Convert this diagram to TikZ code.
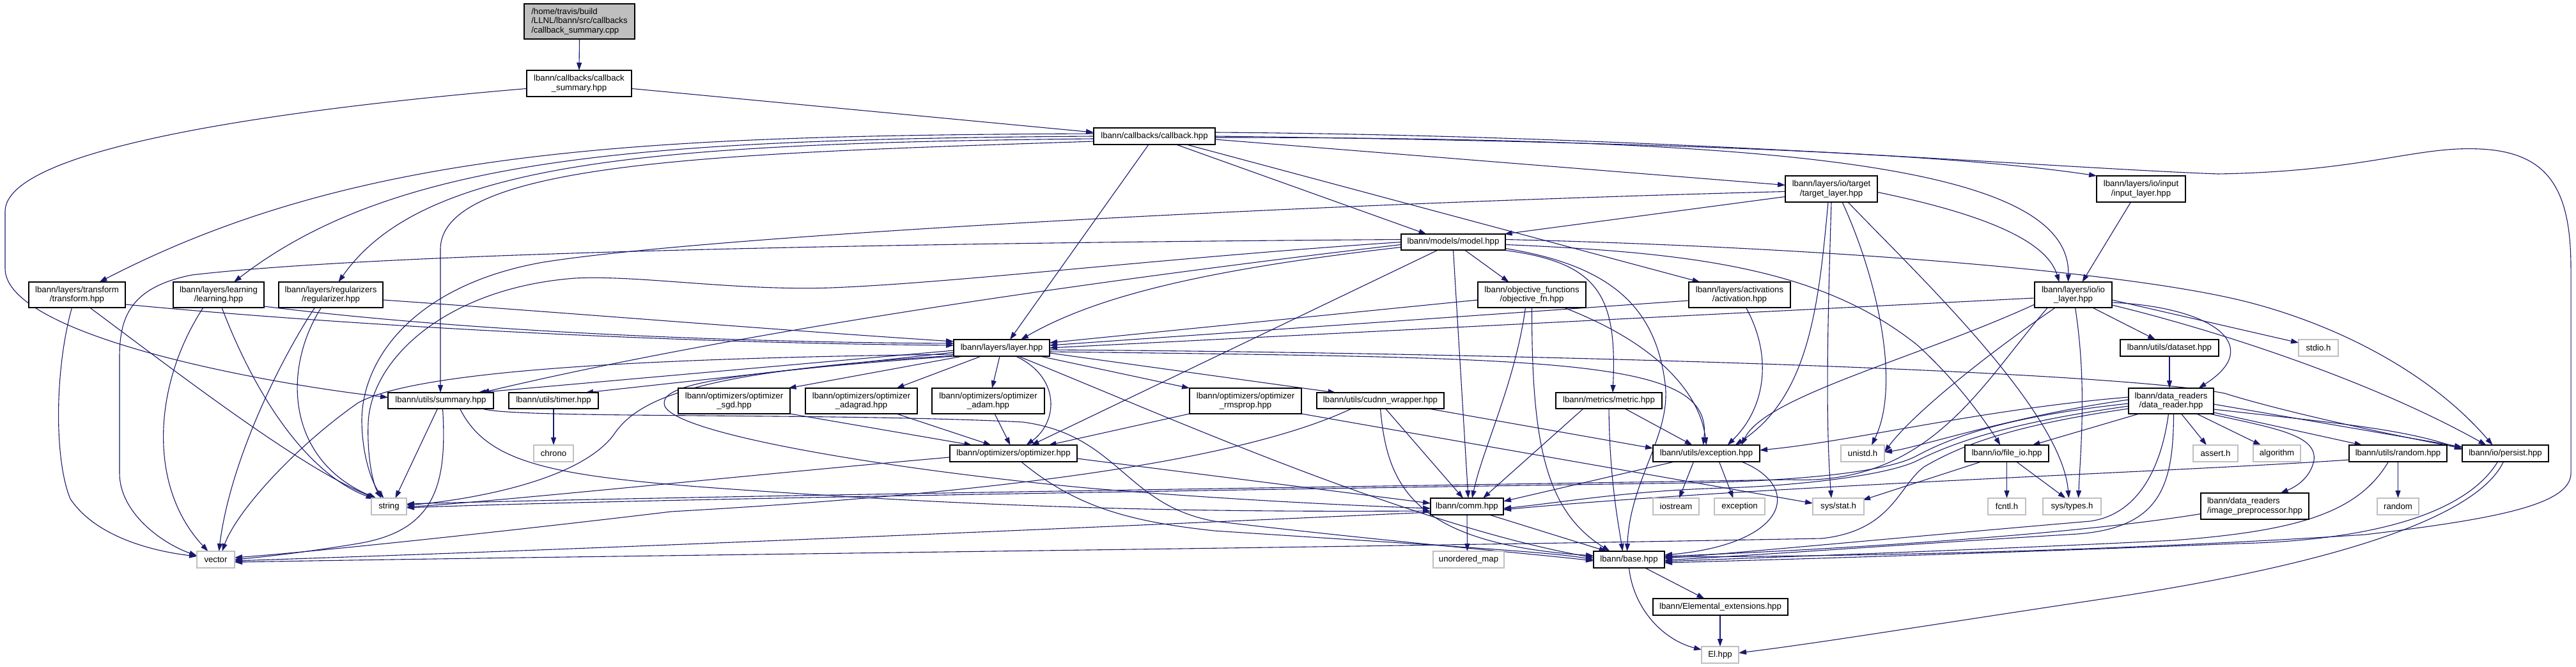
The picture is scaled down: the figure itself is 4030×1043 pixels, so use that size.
\documentclass[tikz,border=0pt]{standalone}
\usepackage{fontspec}
\setmainfont{Liberation Sans}
\usetikzlibrary{arrows.meta}
\definecolor{edgec}{HTML}{191970}
\definecolor{sysb}{HTML}{BFBFBF}
\definecolor{cppfill}{HTML}{BFBFBF}
\pgfdeclarelayer{back}
\pgfdeclarelayer{bg}
\pgfsetlayers{back,bg,main}
\tikzset{
  hb/.style={draw=black, line width=0.6pt, fill=white, inner sep=0pt, outer sep=0pt, align=center, text=black, font=\fontsize{6.6}{7.25}\selectfont},
  sb/.style={hb, draw=sysb},
  sz/.style 2 args={minimum width={#1*0.5pt}, minimum height={#2*0.5pt}},
  edg/.style={draw=edgec, line width=0.55pt, -{Triangle[length=6pt,width=4pt]}}
}
\begin{document}
\begin{tikzpicture}[x=0.5pt,y=-0.5pt]
\useasboundingbox (0,0) rectangle (4030,1043);
\begin{pgfonlayer}{back}
\fill[white] (0,0) rectangle (4030,1043);
\end{pgfonlayer}
% nodes
\node[hb, fill=cppfill, sz={173}{55}, align=left] (cpp) at (906.5,33.5) {/home/travis/build\\/LLNL/lbann/src/callbacks\\/callback\_summary.cpp};
\node[hb, sz={164}{41}] (csum) at (906,130.5) {lbann/callbacks/callback\\\_summary.hpp};
\node[hb, sz={190}{26}] (callback) at (1806,213) {lbann/callbacks/callback.hpp};
\node[hb, sz={163}{25}] (model) at (2273.5,378.5) {lbann/models/model.hpp};
\node[hb, sz={144}{41}] (target) at (2865,295.5) {lbann/layers/io/target\\/target\_layer.hpp};
\node[hb, sz={139}{41}] (input) at (3349.5,295.5) {lbann/layers/io/input\\/input\_layer.hpp};
\node[hb, sz={151}{40}] (transform) at (120.5,461) {lbann/layers/transform\\/transform.hpp};
\node[hb, sz={142}{40}] (learning) at (342,461) {lbann/layers/learning\\/learning.hpp};
\node[hb, sz={163}{40}] (regularizer) at (517.5,461) {lbann/layers/regularizers\\/regularizer.hpp};
\node[hb, sz={169}{40}] (objective) at (2396.5,461) {lbann/objective\_functions\\/objective\_fn.hpp};
\node[hb, sz={159}{40}] (activation) at (2721.5,461) {lbann/layers/activations\\/activation.hpp};
\node[hb, sz={121}{40}] (iolayer) at (3243.5,461) {lbann/layers/io/io\\\_layer.hpp};
\node[hb, sz={150}{26}] (layer) at (1567,544) {lbann/layers/layer.hpp};
\node[hb, sz={154}{26}] (dataset) at (3394,544) {lbann/utils/dataset.hpp};
\node[sb, sz={62}{26}] (stdio) at (3627,544) {stdio.h};
\node[hb, sz={165}{25}] (summary) at (689.5,626.5) {lbann/utils/summary.hpp};
\node[hb, sz={140}{25}] (timer) at (866,626.5) {lbann/utils/timer.hpp};
\node[hb, sz={199}{25}] (cudnn) at (2159.5,626.5) {lbann/utils/cudnn\_wrapper.hpp};
\node[hb, sz={166}{25}] (metric) at (2517,626.5) {lbann/metrics/metric.hpp};
\node[hb, sz={175}{40}] (sgd) at (1148.5,627) {lbann/optimizers/optimizer\\\_sgd.hpp};
\node[hb, sz={175}{40}] (adagrad) at (1347.5,627) {lbann/optimizers/optimizer\\\_adagrad.hpp};
\node[hb, sz={176}{40}] (adam) at (1546,627) {lbann/optimizers/optimizer\\\_adam.hpp};
\node[hb, sz={175}{40}] (rmsprop) at (1948.5,627) {lbann/optimizers/optimizer\\\_rmsprop.hpp};
\node[hb, sz={133}{40}] (datareader) at (3396.5,627) {lbann/data\_readers\\/data\_reader.hpp};
\node[sb, sz={62}{26}] (chrono) at (866,709) {chrono};
\node[hb, sz={199}{26}] (optimizer) at (1585.5,709) {lbann/optimizers/optimizer.hpp};
\node[hb, sz={167}{26}] (exc) at (2669.5,709) {lbann/utils/exception.hpp};
\node[sb, sz={68}{26}] (unistd) at (2914,709) {unistd.h};
\node[hb, sz={131}{26}] (fileio) at (3139.5,709) {lbann/io/file\_io.hpp};
\node[sb, sz={70}{26}] (assert) at (3466,709) {assert.h};
\node[sb, sz={74}{26}] (algorithm) at (3562,709) {algorithm};
\node[hb, sz={153}{26}] (randomhpp) at (3751.5,709) {lbann/utils/random.hpp};
\node[hb, sz={135}{26}] (persist) at (3919.5,709) {lbann/io/persist.hpp};
\node[sb, sz={55}{26}] (string) at (608.5,792) {string};
\node[hb, sz={114}{26}] (comm) at (2295,792) {lbann/comm.hpp};
\node[sb, sz={72}{26}] (iostream) at (2622,792) {iostream};
\node[sb, sz={79}{26}] (exception) at (2721.5,792) {exception};
\node[sb, sz={80}{26}] (sysstat) at (2876,792) {sys/stat.h};
\node[sb, sz={59}{26}] (fcntl) at (3139.5,792) {fcntl.h};
\node[sb, sz={91}{26}] (systypes) at (3241.5,792) {sys/types.h};
\node[hb, sz={169}{41}, align=left] (imgpre) at (3527.5,791.5) {lbann/data\_readers\\/image\_preprocessor.hpp};
\node[sb, sz={65}{26}] (random) at (3751.5,792) {random};
\node[sb, sz={59}{26}] (vector) at (337.5,875) {vector};
\node[sb, sz={111}{26}] (umap) at (2297.5,875) {unordered\_map};
\node[hb, sz={111}{26}] (base) at (2548.5,875) {lbann/base.hpp};
\node[hb, sz={211}{26}] (elext) at (2691.5,949) {lbann/Elemental\_extensions.hpp};
\node[sb, sz={58}{26}] (el) at (2691,1024) {El.hpp};
% edges
\begin{pgfonlayer}{bg}
\draw[edg] ([shift={(0,27.5)}]cpp.center) -- ([shift={(0,-20.5)}]csum.center);
\draw[edg] ([shift={(82,8)}]csum.center) -- ([shift={(-95,-6)}]callback.center);
\draw[edg] ([shift={(-82,8)}]csum.center) .. controls (450,170) and (10,230) .. (8,330) -- (8,420) .. controls (8,520) and (380,595) .. ([shift={(-82.5,-5)}]summary.center);
\draw[edg] ([shift={(34,13)}]callback.center) -- ([shift={(-42,-12.5)}]model.center);
\draw[edg] ([shift={(-9,13)}]callback.center) -- ([shift={(13,-13)}]layer.center);
\draw[edg] ([shift={(50,13)}]callback.center) -- ([shift={(-62,-20)}]activation.center);
\draw[edg] ([shift={(-95,8)}]callback.center) .. controls (1150,240) and (689,250) .. (689,390) -- ([shift={(-0.5,-12.5)}]summary.center);
\draw[edg] ([shift={(-95,-4)}]callback.center) .. controls (1000,212) and (560,232) .. ([shift={(35,-20)}]transform.center);
\draw[edg] ([shift={(-95,0)}]callback.center) .. controls (1000,218) and (620,245) .. ([shift={(24,-20)}]learning.center);
\draw[edg] ([shift={(-95,4)}]callback.center) .. controls (1000,224) and (660,255) .. ([shift={(12,-20)}]regularizer.center);
\draw[edg] ([shift={(95,5)}]callback.center) -- ([shift={(-72,-6)}]target.center);
\draw[edg] ([shift={(95,0)}]callback.center) .. controls (2600,222) and (3050,240) .. ([shift={(-69.5,-20.5)}]input.center);
\draw[edg] ([shift={(95,2)}]callback.center) .. controls (2800,215) and (3240,260) .. ([shift={(-8,-20)}]iolayer.center);
\draw[edg] ([shift={(95,-6)}]callback.center) .. controls (2600,212) and (3200,262) .. (3470,272) .. controls (3700,268) and (3780,228) .. (3880,233) .. controls (3990,238) and (4022,300) .. (4022,420) -- (4022,740) .. controls (4022,790) and (3900,812) .. (3700,836) .. controls (3300,862) and (2900,870) .. ([shift={(55.5,-4)}]base.center);
\draw[edg] ([shift={(-72,12)}]target.center) -- ([shift={(80,-12.5)}]model.center);
\draw[edg] ([shift={(-72,4)}]target.center) .. controls (2000,320) and (1100,370) .. (850,410) .. controls (650,445) and (565,560) .. (566,660) .. controls (567,720) and (585,760) .. ([shift={(-8,-13)}]string.center);
\draw[edg] ([shift={(72,5)}]target.center) .. controls (3080,330) and (3200,370) .. ([shift={(-22,-20)}]iolayer.center);
\draw[edg] ([shift={(-5,20.5)}]target.center) .. controls (2845,480) and (2830,620) .. ([shift={(45,-13)}]exc.center);
\draw[edg] ([shift={(0,20.5)}]target.center) .. controls (2860,480) and (2855,650) .. ([shift={(-11,-13)}]sysstat.center);
\draw[edg] ([shift={(17,20.5)}]target.center) .. controls (2935,430) and (2975,600) .. ([shift={(14,-13)}]unistd.center);
\draw[edg] ([shift={(26,20.5)}]target.center) .. controls (2990,420) and (3225,640) .. ([shift={(-5,-13)}]systypes.center);
\draw[edg] ([shift={(-16,20.5)}]input.center) -- ([shift={(14,-20)}]iolayer.center);
% model
\draw[edg] ([shift={(-81.5,-4)}]model.center) .. controls (1400,380) and (600,395) .. (300,430) .. controls (200,450) and (187,500) .. (187,560) -- (187,740) .. controls (187,800) and (250,848) .. ([shift={(-29.5,-6)}]vector.center);
\draw[edg] ([shift={(-81.5,0)}]model.center) .. controls (1800,405) and (1500,442) .. (1300,450) .. controls (1150,455) and (1000,430) .. (900,435) .. controls (700,450) and (580,560) .. (576,662) .. controls (574,720) and (585,760) .. ([shift={(-12,-13)}]string.center);
\draw[edg] ([shift={(-81.5,4)}]model.center) .. controls (1700,440) and (1150,520) .. ([shift={(64,-12.5)}]summary.center);
\draw[edg] ([shift={(-81.5,8)}]model.center) .. controls (1900,420) and (1720,460) .. ([shift={(30,-13)}]layer.center);
\draw[edg] ([shift={(-24,12.5)}]model.center) -- ([shift={(28,-13)}]optimizer.center);
\draw[edg] ([shift={(0,12.5)}]model.center) -- ([shift={(2,-13)}]comm.center);
\draw[edg] ([shift={(18,12.5)}]model.center) -- ([shift={(-36,-20)}]objective.center);
\draw[edg] ([shift={(78,12.5)}]model.center) .. controls (2500,410) and (2530,460) .. ([shift={(6,-12.5)}]metric.center);
\draw[edg] ([shift={(81.5,10)}]model.center) .. controls (2520,415) and (2590,480) .. (2605,600) .. controls (2615,680) and (2550,750) .. ([shift={(-3,-13)}]base.center);
\draw[edg] ([shift={(81.5,-4)}]model.center) .. controls (2800,385) and (3300,420) .. (3507,470) .. controls (3650,505) and (3800,580) .. ([shift={(-20,-13)}]persist.center);
\draw[edg] ([shift={(81.5,4)}]model.center) .. controls (2650,395) and (2850,420) .. (3000,540) .. controls (3060,595) and (3100,650) .. ([shift={(-10,-13)}]fileio.center);
% objective, activation
\draw[edg] ([shift={(-84.5,8)}]objective.center) -- ([shift={(75,-8)}]layer.center);
\draw[edg] ([shift={(-10,20)}]objective.center) .. controls (2370,600) and (2320,700) .. ([shift={(8,-13)}]comm.center);
\draw[edg] ([shift={(0,20)}]objective.center) .. controls (2396,700) and (2420,800) .. ([shift={(-30,-13)}]base.center);
\draw[edg] ([shift={(50,20)}]objective.center) .. controls (2600,540) and (2660,620) .. ([shift={(0,-13)}]exc.center);
\draw[edg] ([shift={(-79.5,9)}]activation.center) -- ([shift={(75,-4)}]layer.center);
\draw[edg] ([shift={(10,20)}]activation.center) .. controls (2775,560) and (2760,640) .. ([shift={(33,-13)}]exc.center);
% io layer
\draw[edg] ([shift={(-60.5,5)}]iolayer.center) -- ([shift={(75,0)}]layer.center);
\draw[edg] ([shift={(-40,20)}]iolayer.center) .. controls (3100,600) and (3020,760) .. (2800,750) .. controls (2200,760) and (1100,775) .. ([shift={(27.5,-4)}]string.center);
\draw[edg] ([shift={(-60.5,15)}]iolayer.center) .. controls (3000,560) and (2760,620) .. ([shift={(55,-13)}]exc.center);
\draw[edg] ([shift={(-28,20)}]iolayer.center) .. controls (3100,560) and (2990,650) .. ([shift={(34,-2)}]unistd.center);
\draw[edg] ([shift={(3,20)}]iolayer.center) .. controls (3265,600) and (3255,700) .. ([shift={(10,-13)}]systypes.center);
\draw[edg] ([shift={(30,20)}]iolayer.center) -- ([shift={(-22,-13)}]dataset.center);
\draw[edg] ([shift={(60.5,8)}]iolayer.center) -- ([shift={(-31,-8)}]stdio.center);
\draw[edg] ([shift={(60.5,12)}]iolayer.center) .. controls (3460,480) and (3545,540) .. ([shift={(43,-20)}]datareader.center);
\draw[edg] ([shift={(60.5,16)}]iolayer.center) .. controls (3450,512) and (3700,590) .. ([shift={(-30,-13)}]persist.center);
% layer
\draw[edg] ([shift={(-61,13)}]layer.center) -- ([shift={(85,-20)}]sgd.center);
\draw[edg] ([shift={(-32,13)}]layer.center) -- ([shift={(55,-20)}]adagrad.center);
\draw[edg] ([shift={(-3,13)}]layer.center) -- ([shift={(6,-20)}]adam.center);
\draw[edg] ([shift={(22,13)}]layer.center) .. controls (1660,590) and (1655,660) .. ([shift={(20,-13)}]optimizer.center);
\draw[edg] ([shift={(60,13)}]layer.center) -- ([shift={(-87.5,-20)}]rmsprop.center);
\draw[edg] ([shift={(75,8)}]layer.center) -- ([shift={(-70,-12.5)}]cudnn.center);
\draw[edg] ([shift={(75,3)}]layer.center) .. controls (2400,552) and (3300,580) .. (3480,615) .. controls (3560,640) and (3700,672) .. ([shift={(-67.5,-8)}]persist.center);
\draw[edg] ([shift={(75,6)}]layer.center) .. controls (2450,560) and (2680,560) .. ([shift={(-5,-13)}]exc.center);
\draw[edg] ([shift={(-75,4)}]layer.center) -- ([shift={(58,-12.5)}]summary.center);
\draw[edg] ([shift={(-75,7)}]layer.center) -- ([shift={(50,-12.5)}]timer.center);
\draw[edg] ([shift={(-75,10)}]layer.center) .. controls (1000,560) and (650,580) .. (560,630) .. controls (460,700) and (370,800) .. ([shift={(10,-13)}]vector.center);
\draw[edg] ([shift={(-75,12)}]layer.center) .. controls (1100,580) and (1000,620) .. (960,680) .. controls (900,760) and (700,785) .. ([shift={(27.5,-2)}]string.center);
\draw[edg] ([shift={(-75,13)}]layer.center) .. controls (1100,585) and (1030,605) .. (1040,635) .. controls (1060,680) and (1400,735) .. (1700,763) .. controls (1900,780) and (2100,790) .. ([shift={(-57,3)}]comm.center);
\draw[edg] ([shift={(26,13)}]layer.center) .. controls (1800,640) and (2200,820) .. ([shift={(-55.5,-3)}]base.center);
% optimizers
\draw[edg] ([shift={(87.5,20)}]sgd.center) -- ([shift={(-65,-13)}]optimizer.center);
\draw[edg] ([shift={(55,20)}]adagrad.center) -- ([shift={(-35,-13)}]optimizer.center);
\draw[edg] ([shift={(10,20)}]adam.center) -- ([shift={(-5,-13)}]optimizer.center);
\draw[edg] ([shift={(-87.5,20)}]rmsprop.center) -- ([shift={(55,-13)}]optimizer.center);
\draw[edg] ([shift={(87.5,20)}]rmsprop.center) -- ([shift={(-40,-5)}]sysstat.center);
\draw[edg] ([shift={(-99.5,6)}]optimizer.center) .. controls (1200,740) and (800,782) .. ([shift={(27.5,1)}]string.center);
\draw[edg] ([shift={(99.5,8)}]optimizer.center) -- ([shift={(-57,-5)}]comm.center);
\draw[edg] ([shift={(12,13)}]optimizer.center) .. controls (1680,790) and (1760,815) .. (1900,830) .. controls (2200,850) and (2420,862) .. ([shift={(-55.5,0)}]base.center);
% summary, timer
\draw[edg] ([shift={(-5,12.5)}]summary.center) -- ([shift={(10,-13)}]string.center);
\draw[edg] ([shift={(3,12.5)}]summary.center) .. controls (700,760) and (680,830) .. (560,850) .. controls (470,865) and (400,872) .. ([shift={(29.5,0)}]vector.center);
\draw[edg] ([shift={(30,12.5)}]summary.center) .. controls (770,740) and (900,750) .. (1300,775) .. controls (1700,800) and (2000,800) .. ([shift={(-57,7)}]comm.center);
\draw[edg] ([shift={(65,12.5)}]summary.center) .. controls (800,655) and (1300,645) .. (1600,660) .. controls (1750,680) and (1760,790) .. (1900,815) .. controls (2200,850) and (2400,866) .. ([shift={(-55.5,2)}]base.center);
\draw[edg] ([shift={(0,12.5)}]timer.center) -- ([shift={(0,-13)}]chrono.center);
% cudnn, metric
\draw[edg] ([shift={(-45,12.5)}]cudnn.center) .. controls (1900,740) and (1400,780) .. (1050,800) .. controls (800,830) and (500,862) .. ([shift={(29.5,-3)}]vector.center);
\draw[edg] ([shift={(8,12.5)}]cudnn.center) -- ([shift={(-6,-13)}]comm.center);
\draw[edg] ([shift={(0,12.5)}]cudnn.center) .. controls (2170,760) and (2210,850) .. ([shift={(-55.5,-6)}]base.center);
\draw[edg] ([shift={(75,12.5)}]cudnn.center) -- ([shift={(-83.5,-8)}]exc.center);
\draw[edg] ([shift={(-40,12.5)}]metric.center) -- ([shift={(25,-13)}]comm.center);
\draw[edg] ([shift={(0,12.5)}]metric.center) .. controls (2518,750) and (2532,820) .. ([shift={(-10,-13)}]base.center);
\draw[edg] ([shift={(25,12.5)}]metric.center) -- ([shift={(-22,-13)}]exc.center);
% comm, exception
\draw[edg] ([shift={(0,13)}]comm.center) -- ([shift={(-2,-13)}]umap.center);
\draw[edg] ([shift={(35,13)}]comm.center) -- ([shift={(-35,-13)}]base.center);
\draw[edg] ([shift={(-57,9)}]comm.center) .. controls (1700,825) and (1000,856) .. ([shift={(29.5,2)}]vector.center);
\draw[edg] ([shift={(-20,13)}]exc.center) -- ([shift={(5,-13)}]iostream.center);
\draw[edg] ([shift={(20,13)}]exc.center) -- ([shift={(-10,-13)}]exception.center);
\draw[edg] ([shift={(-50,13)}]exc.center) -- ([shift={(57,-8)}]comm.center);
\draw[edg] ([shift={(55,13)}]exc.center) .. controls (2820,760) and (2800,850) .. ([shift={(55.5,-7)}]base.center);
% base
\draw[edg] ([shift={(25,13)}]base.center) -- ([shift={(-25,-13)}]elext.center);
\draw[edg] ([shift={(0,13)}]base.center) .. controls (2555,950) and (2600,1000) .. ([shift={(-29,-8)}]el.center);
\draw[edg] ([shift={(-0.5,13)}]elext.center) -- ([shift={(0,-13)}]el.center);
% data reader
\draw[edg] ([shift={(0,13)}]dataset.center) -- ([shift={(-2.5,-20)}]datareader.center);
\draw[edg] ([shift={(-66.5,-6)}]datareader.center) .. controls (3100,640) and (2900,690) .. ([shift={(83.5,-5)}]exc.center);
\draw[edg] ([shift={(-66.5,-2)}]datareader.center) .. controls (3150,650) and (3000,700) .. ([shift={(34,-2)}]unistd.center);
\draw[edg] ([shift={(-66.5,4)}]datareader.center) .. controls (3150,650) and (3060,680) .. (3000,712) .. controls (2950,740) and (2800,752) .. (2650,755) .. controls (2000,765) and (1000,780) .. ([shift={(27.5,2)}]string.center);
\draw[edg] ([shift={(-66.5,8)}]datareader.center) .. controls (3150,660) and (3060,690) .. (3000,720) .. controls (2950,745) and (2800,760) .. (2700,763) .. controls (2550,767) and (2450,785) .. ([shift={(57,3)}]comm.center);
\draw[edg] ([shift={(-66.5,12)}]datareader.center) .. controls (3150,665) and (3070,695) .. (3010,730) .. controls (2970,760) and (2960,830) .. (2850,842) .. controls (2000,858) and (1000,868) .. ([shift={(29.5,4)}]vector.center);
\draw[edg] ([shift={(-4,20)}]datareader.center) .. controls (3380,740) and (3340,805) .. (3270,815) .. controls (3000,838) and (2750,862) .. ([shift={(55.5,-2)}]base.center);
\draw[edg] ([shift={(4,20)}]datareader.center) .. controls (3400,760) and (3380,825) .. (3250,835) .. controls (3000,850) and (2750,868) .. ([shift={(55.5,1)}]base.center);
\draw[edg] ([shift={(-50,20)}]datareader.center) -- ([shift={(40,-13)}]fileio.center);
\draw[edg] ([shift={(16,20)}]datareader.center) -- ([shift={(-14,-13)}]assert.center);
\draw[edg] ([shift={(40,20)}]datareader.center) -- ([shift={(-25,-13)}]algorithm.center);
\draw[edg] ([shift={(66.5,18)}]datareader.center) -- ([shift={(-56,-13)}]randomhpp.center);
\draw[edg] ([shift={(66.5,5)}]datareader.center) -- ([shift={(-67.5,-10)}]persist.center);
\draw[edg] ([shift={(66.5,13)}]datareader.center) .. controls (3640,660) and (3760,670) .. ([shift={(-67.5,-6)}]persist.center);
\draw[edg] ([shift={(60,20)}]datareader.center) .. controls (3560,670) and (3625,680) .. (3620,720) .. controls (3615,745) and (3595,760) .. ([shift={(40,-20.5)}]imgpre.center);
% file io, random, persist, image preprocessor
\draw[edg] ([shift={(0,13)}]fileio.center) -- ([shift={(0,-13)}]fcntl.center);
\draw[edg] ([shift={(15,13)}]fileio.center) -- ([shift={(-10,-13)}]systypes.center);
\draw[edg] ([shift={(-40,13)}]fileio.center) -- ([shift={(38,-10)}]sysstat.center);
\draw[edg] ([shift={(0,13)}]randomhpp.center) -- ([shift={(0,-13)}]random.center);
\draw[edg] ([shift={(-76.5,10)}]randomhpp.center) .. controls (3400,738) and (2750,760) .. ([shift={(57,5)}]comm.center);
\draw[edg] ([shift={(-15,13)}]randomhpp.center) .. controls (3690,800) and (3600,830) .. (3400,845) .. controls (3100,860) and (2750,872) .. ([shift={(55.5,3)}]base.center);
\draw[edg] ([shift={(-12,13)}]persist.center) .. controls (3860,800) and (3720,845) .. (3500,850) .. controls (3100,866) and (2750,876) .. ([shift={(55.5,5)}]base.center);
\draw[edg] ([shift={(-3,13)}]persist.center) .. controls (3870,820) and (3600,890) .. (3300,935) .. controls (3000,980) and (2850,1005) .. ([shift={(29,-3)}]el.center);
\draw[edg] ([shift={(-84.5,12)}]imgpre.center) .. controls (3250,835) and (2900,858) .. ([shift={(55.5,-5)}]base.center);
% transform, learning, regularizer
\draw[edg] ([shift={(75.5,15)}]transform.center) .. controls (500,505) and (1000,536) .. ([shift={(-75,-4)}]layer.center);
\draw[edg] ([shift={(20,20)}]transform.center) .. controls (300,600) and (470,730) .. ([shift={(-22,-13)}]string.center);
\draw[edg] ([shift={(-8,20)}]transform.center) .. controls (85,580) and (85,720) .. (110,780) .. controls (150,840) and (240,862) .. ([shift={(-29.5,-5)}]vector.center);
\draw[edg] ([shift={(71,18)}]learning.center) .. controls (700,515) and (1100,535) .. ([shift={(-75,-7)}]layer.center);
\draw[edg] ([shift={(-24,20)}]learning.center) .. controls (240,600) and (230,760) .. ([shift={(-12,-13)}]vector.center);
\draw[edg] ([shift={(5,20)}]learning.center) .. controls (400,620) and (480,740) .. ([shift={(-24,-12)}]string.center);
\draw[edg] ([shift={(81.5,8)}]regularizer.center) .. controls (900,490) and (1200,515) .. ([shift={(-75,-10)}]layer.center);
\draw[edg] ([shift={(-25,20)}]regularizer.center) .. controls (440,560) and (360,720) .. ([shift={(5,-13)}]vector.center);
\draw[edg] ([shift={(-15,20)}]regularizer.center) .. controls (440,580) and (450,720) .. ([shift={(-20,-13)}]string.center);
\end{pgfonlayer}
\end{tikzpicture}
\end{document}
